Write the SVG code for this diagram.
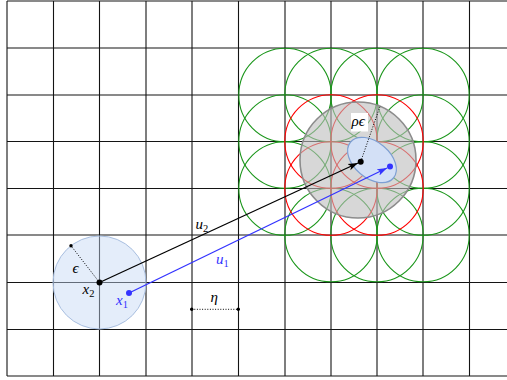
<svg xmlns="http://www.w3.org/2000/svg" width="507" height="380" viewBox="0 0 507 380">
<style>
.grid line{stroke:#141414;stroke-width:1.1}
.g{fill:none;stroke:#1a961a;stroke-width:1.1}
.r{fill:none;stroke:#f00;stroke-width:1.1}
.dot{stroke:#000;stroke-width:1;stroke-dasharray:1 1.6;fill:none}
.m{font-family:"Liberation Serif","DejaVu Serif",serif;font-style:italic;font-size:15px}
.s{font-family:"Liberation Serif","DejaVu Serif",serif;font-size:10.5px}
</style>
<defs>
<marker id="ak" viewBox="0 0 10 8" refX="10" refY="4" markerWidth="10" markerHeight="8" markerUnits="userSpaceOnUse" orient="auto"><path d="M0,0.5 L10,4 L0,7.5 L2.5,4 z" fill="#000"/></marker>
<marker id="ab" viewBox="0 0 10 8" refX="10" refY="4" markerWidth="10" markerHeight="8" markerUnits="userSpaceOnUse" orient="auto"><path d="M0,0.5 L10,4 L0,7.5 L2.5,4 z" fill="#3333ff"/></marker>
</defs>
<rect width="507" height="380" fill="#fff"/>
<g class="grid" id="grid">
<line x1="7" y1="1" x2="7" y2="376"/>
<line x1="53.5" y1="1" x2="53.5" y2="376"/>
<line x1="99.5" y1="1" x2="99.5" y2="376"/>
<line x1="146" y1="1" x2="146" y2="376"/>
<line x1="192" y1="1" x2="192" y2="376"/>
<line x1="238.5" y1="1" x2="238.5" y2="376"/>
<line x1="285" y1="1" x2="285" y2="376"/>
<line x1="331" y1="1" x2="331" y2="376"/>
<line x1="377" y1="1" x2="377" y2="376"/>
<line x1="423" y1="1" x2="423" y2="376"/>
<line x1="469.5" y1="1" x2="469.5" y2="376"/>
<line x1="7" y1="1" x2="507" y2="1"/>
<line x1="7" y1="48" x2="507" y2="48"/>
<line x1="7" y1="95" x2="507" y2="95"/>
<line x1="7" y1="141.5" x2="507" y2="141.5"/>
<line x1="7" y1="188.5" x2="507" y2="188.5"/>
<line x1="7" y1="235" x2="507" y2="235"/>
<line x1="7" y1="282.5" x2="507" y2="282.5"/>
<line x1="7" y1="329.5" x2="507" y2="329.5"/>
<line x1="7" y1="376" x2="507" y2="376"/>
</g>
<g id="cover-green">
<ellipse class="g" cx="285" cy="95" rx="46.2" ry="46.8"/>
<ellipse class="g" cx="331" cy="95" rx="46.2" ry="46.8"/>
<ellipse class="g" cx="377" cy="95" rx="46.2" ry="46.8"/>
<ellipse class="g" cx="423" cy="95" rx="46.2" ry="46.8"/>
<ellipse class="g" cx="285" cy="141.5" rx="46.2" ry="46.8"/>
<ellipse class="g" cx="423" cy="141.5" rx="46.2" ry="46.8"/>
<ellipse class="g" cx="285" cy="188.5" rx="46.2" ry="46.8"/>
<ellipse class="g" cx="423" cy="188.5" rx="46.2" ry="46.8"/>
<ellipse class="g" cx="331" cy="235" rx="46.2" ry="46.8"/>
<ellipse class="g" cx="377" cy="235" rx="46.2" ry="46.8"/>
<ellipse class="g" cx="423" cy="235" rx="46.2" ry="46.8"/>
</g>
<g id="cover-red">
<ellipse class="r" cx="331" cy="141.5" rx="46.2" ry="46.8"/>
<ellipse class="r" cx="377" cy="141.5" rx="46.2" ry="46.8"/>
<ellipse class="r" cx="331" cy="188.5" rx="46.2" ry="46.8"/>
<ellipse class="r" cx="377" cy="188.5" rx="46.2" ry="46.8"/>
</g>
<g id="ball-rho">
<circle cx="358" cy="160" r="58" fill="#bdbdbd" fill-opacity="0.6" stroke="#8c8c8c" stroke-width="1.6"/>
</g>
<g id="ball-eps">
<circle cx="99.5" cy="282.5" r="46.5" fill="#c4d6f5" fill-opacity="0.45" stroke="#a9bfe0" stroke-width="1"/>
</g>
<g id="set">
<ellipse cx="372" cy="160" rx="28" ry="18" transform="rotate(40 372 160)" fill="#d3e0f6" stroke="#7d9fd3" stroke-width="1.2"/>
</g>
<g id="connectors">
<line class="dot" x1="99.5" y1="282.5" x2="71" y2="245.7"/>
<circle cx="71" cy="245.7" r="1.7"/>
<line class="dot" x1="360.7" y1="161.7" x2="380" y2="106.5"/>
<line class="dot" x1="191.7" y1="309.3" x2="238.3" y2="309.3"/>
<circle cx="191.7" cy="309.3" r="1.7"/>
<circle cx="238.3" cy="309.3" r="1.7"/>
<line x1="99.5" y1="282.5" x2="358" y2="163" stroke="#000" stroke-width="1.3" marker-end="url(#ak)"/>
<line x1="129" y1="293" x2="387" y2="168" stroke="#3333ff" stroke-width="1.3" marker-end="url(#ab)"/>
</g>
<g id="x2">
<circle cx="99.5" cy="282.5" r="3"/>
<text class="m" x="82.5" y="293.5">x<tspan class="s" dy="3" font-style="normal">2</tspan></text>
</g>
<g id="x1" fill="#3333ff">
<circle cx="129" cy="293" r="3"/>
<text class="m" x="116" y="304.5">x<tspan class="s" dy="3" font-style="normal">1</tspan></text>
</g>
<g id="y2"><circle cx="360.7" cy="161.7" r="3"/></g>
<g id="y1"><circle cx="390" cy="166.5" r="3" fill="#3333ff"/></g>
<g id="labels">
<text class="m" x="72.5" y="273">ϵ</text>
<text class="m" x="195.5" y="228.5">u<tspan class="s" dy="3" font-style="normal">2</tspan></text>
<text class="m" x="216" y="263.5" fill="#3333ff">u<tspan class="s" dy="3" font-style="normal">1</tspan></text>
<text class="m" x="210.5" y="302">η</text>
<rect x="351" y="113" width="17" height="18.5" fill="#fff"/>
<text class="m" x="351.5" y="126">ρϵ</text>
</g>
</svg>
